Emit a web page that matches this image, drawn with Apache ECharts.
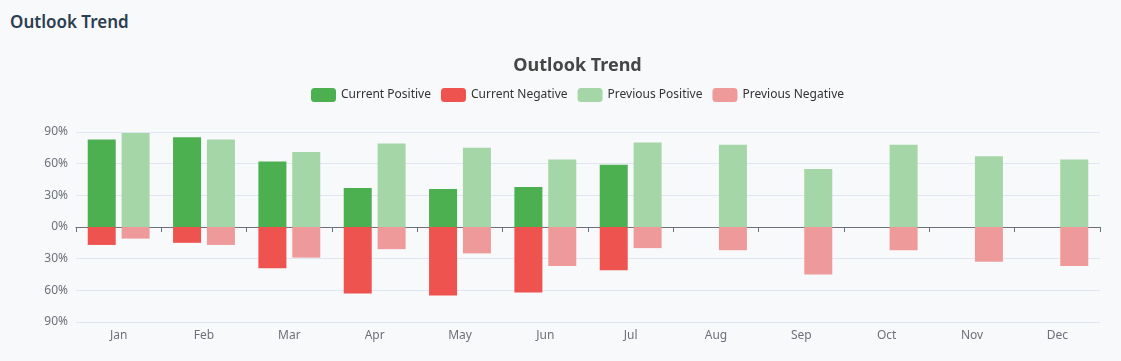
<!DOCTYPE html>
<html>
<head>
<meta charset="utf-8">
<script src="https://cdn.jsdelivr.net/npm/echarts@6/dist/echarts.min.js"></script>
<style>
  html, body { margin: 0; padding: 0; width: 1121px; height: 361px; overflow: hidden; background: #f8f9fb; }
  #pageTitle { position: absolute; left: 10px; top: 10px; font-family: "Noto Sans", "Open Sans", sans-serif; font-size: 17px; font-weight: 600; color: #2c3e50; }
  #chart { position: absolute; left: 34px; top: 40px; width: 1087px; height: 321px; }
</style>
</head>
<body>
<div id="pageTitle">Outlook Trend</div>
<div id="chart"></div>
<script>
const months = ['Jan','Feb','Mar','Apr','May','Jun','Jul','Aug','Sep','Oct','Nov','Dec'];
const currentPositive = [83, 85, 62, 37, 36, 38, 59, null, null, null, null, null];
const currentNegative = [-17, -15, -39, -63, -65, -62, -41, null, null, null, null, null];
const previousPositive = [89, 83, 71, 79, 75, 64, 80, 78, 55, 78, 67, 64];
const previousNegative = [-11, -17, -29, -21, -25, -37, -20, -22, -45, -22, -33, -37];
const yTicks = { min: -90, max: 90, interval: 30 };

const chart = echarts.init(document.getElementById('chart'));
const font = '"Noto Sans", "Open Sans", sans-serif';
chart.setOption({
  backgroundColor: 'transparent',
  textStyle: { fontFamily: font },
  title: {
    text: 'Outlook Trend',
    left: 'center',
    top: 12,
    textStyle: { fontSize: 18, fontWeight: 'bold', color: '#464646', fontFamily: font }
  },
  legend: {
    top: 43,
    left: 'center',
    itemWidth: 25,
    itemHeight: 14,
    itemGap: 10,
    textStyle: { fontSize: 12, color: '#333', fontFamily: font },
    data: ['Current Positive', 'Current Negative', 'Previous Positive', 'Previous Negative']
  },
  grid: { left: 42, right: 21, top: 92, bottom: 39, containLabel: false },
  xAxis: {
    type: 'category',
    data: months,
    axisLine: { onZero: true, lineStyle: { color: '#6e7079' } },
    axisTick: { show: true, alignWithLabel: false, length: 5 },
    axisLabel: { color: '#6e7079', fontSize: 12, margin: 8 }
  },
  yAxis: {
    type: 'value',
    min: yTicks.min,
    max: yTicks.max,
    interval: yTicks.interval,
    axisLabel: { color: '#6e7079', fontSize: 12, formatter: v => Math.abs(v) + '%' },
    splitLine: { lineStyle: { color: '#e0e6f1' } }
  },
  series: [
    { name: 'Current Positive', type: 'bar', stack: 'current', data: currentPositive, barWidth: 28, barGap: '21%', itemStyle: { color: '#4caf50' } },
    { name: 'Current Negative', type: 'bar', stack: 'current', data: currentNegative, barWidth: 28, barGap: '21%', itemStyle: { color: '#ef5350' } },
    { name: 'Previous Positive', type: 'bar', stack: 'previous', data: previousPositive, barWidth: 28, barGap: '21%', itemStyle: { color: '#a5d6a7' } },
    { name: 'Previous Negative', type: 'bar', stack: 'previous', data: previousNegative, barWidth: 28, barGap: '21%', itemStyle: { color: '#ef9a9a' } }
  ]
});
</script>
</body>
</html>
